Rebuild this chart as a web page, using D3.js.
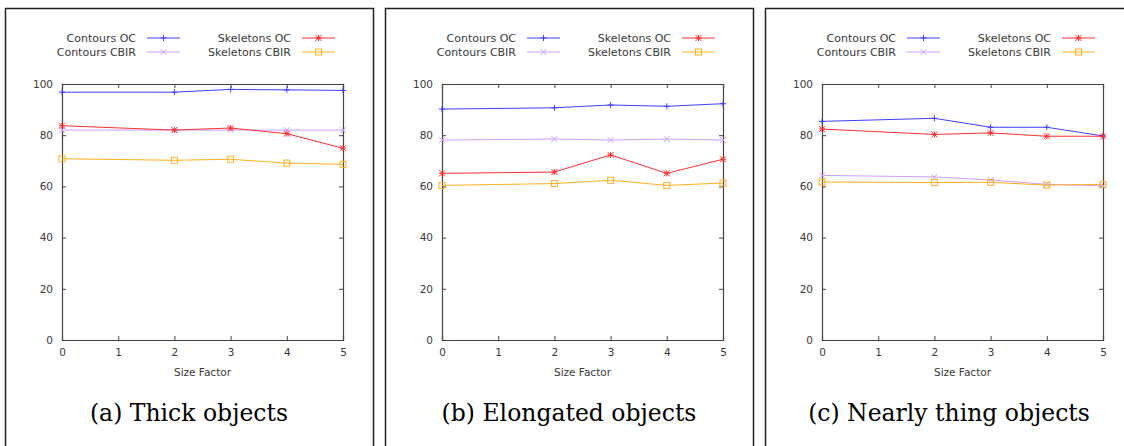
<!DOCTYPE html>
<html>
<head>
<meta charset="utf-8">
<script src="https://cdn.jsdelivr.net/npm/d3@7"></script>
<style>
  body { margin: 0; background: #fff; }
  svg { display: block; }
</style>
</head>
<body>
<div id="chart"></div>
<script>
// size factors that were measured (no point at 1)
var sizeFactors = [0, 2, 3, 4, 5];
var xTicks = [0, 1, 2, 3, 4, 5];
var yTicks = [0, 20, 40, 60, 80, 100];

var seriesNames = ["Contours OC", "Contours CBIR", "Skeletons OC", "Skeletons CBIR"];

var captions = ["(a) Thick objects", "(b) Elongated objects", "(c) Nearly thing objects"];

// panel (a)
var thickContoursOC    = [96.8, 96.8, 97.9, 97.7, 97.5];
var thickContoursCBIR  = [82.0, 82.0, 82.0, 82.0, 82.0];
var thickSkeletonsOC   = [83.7, 82.0, 82.8, 80.6, 74.9];
var thickSkeletonsCBIR = [70.8, 70.2, 70.6, 69.1, 68.6];

// panel (b)
var elongContoursOC    = [90.2, 90.7, 91.8, 91.3, 92.3];
var elongContoursCBIR  = [78.1, 78.5, 78.1, 78.5, 78.1];
var elongSkeletonsOC   = [65.1, 65.6, 72.3, 65.1, 70.6];
var elongSkeletonsCBIR = [60.4, 61.1, 62.4, 60.4, 61.3];

// panel (c)
var thinContoursOC    = [85.4, 86.6, 83.1, 83.1, 79.7];
var thinContoursCBIR  = [64.3, 63.7, 62.5, 60.8, 60.2];
var thinSkeletonsOC   = [82.4, 80.3, 80.9, 79.6, 79.6];
var thinSkeletonsCBIR = [61.7, 61.5, 61.6, 60.5, 60.8];

var panels = [
  [thickContoursOC, thickContoursCBIR, thickSkeletonsOC, thickSkeletonsCBIR],
  [elongContoursOC, elongContoursCBIR, elongSkeletonsOC, elongSkeletonsCBIR],
  [thinContoursOC, thinContoursCBIR, thinSkeletonsOC, thinSkeletonsCBIR]
];

var colors = ["#4040ff", "#c8a0ff", "#ff3030", "#ffb020"];
var markers = ["plus", "cross", "star", "square"];

var width = 1124, height = 446;
var panelStep = 380;

var svg = d3.select("#chart").append("svg")
    .attr("width", width)
    .attr("height", height);

var x = d3.scaleLinear().domain([0, 5]).range([62, 343]);
var y = d3.scaleLinear().domain([0, 100]).range([340, 84]);

function drawMarker(g, type, cx, cy, color) {
  var s = 3;
  if (type == "plus" || type == "star") {
    g.append("path").attr("d", "M" + (cx - s) + "," + cy + "H" + (cx + s) + "M" + cx + "," + (cy - s) + "V" + (cy + s))
      .attr("stroke", color).attr("stroke-width", 1);
  }
  if (type == "cross" || type == "star") {
    g.append("path").attr("d", "M" + (cx - s) + "," + (cy - s) + "L" + (cx + s) + "," + (cy + s) + "M" + (cx - s) + "," + (cy + s) + "L" + (cx + s) + "," + (cy - s))
      .attr("stroke", color).attr("stroke-width", 1);
  }
  if (type == "square") {
    g.append("rect").attr("x", cx - s).attr("y", cy - s).attr("width", 2 * s).attr("height", 2 * s)
      .attr("fill", "none").attr("stroke", color).attr("stroke-width", 1);
  }
}

panels.forEach(function(series, p) {
  var g = svg.append("g").attr("transform", "translate(" + (p * panelStep) + ",0)");

  // frame of the subfigure
  g.append("path")
    .attr("d", "M5.5,460V8.5H" + (p == 2 ? 400 : 373.5) + "V460")
    .attr("fill", "none")
    .attr("stroke", "#222")
    .attr("stroke-width", 1.5);

  // axes
  var xAxis = g.append("g").attr("transform", "translate(0,340)")
    .call(d3.axisBottom(x).tickValues(xTicks).tickSize(-4).tickPadding(9).tickFormat(d3.format("d")));
  var xTop = g.append("g").attr("transform", "translate(0,84)")
    .call(d3.axisTop(x).tickValues(xTicks).tickSize(-4).tickFormat(""));
  var yAxis = g.append("g").attr("transform", "translate(62,0)")
    .call(d3.axisLeft(y).tickValues(yTicks).tickSize(-4).tickPadding(9));
  var yRight = g.append("g").attr("transform", "translate(343,0)")
    .call(d3.axisRight(y).tickValues(yTicks).tickSize(-4).tickFormat(""));

  [xAxis, xTop, yAxis, yRight].forEach(function(a) {
    a.select(".domain").attr("stroke", "#444").attr("stroke-width", 1.2);
    a.selectAll(".tick line").attr("stroke", "#444");
    a.selectAll("text").attr("fill", "#3a3a3a")
      .style("font-family", "'DejaVu Sans', sans-serif").style("font-size", "10.5px");
  });

  g.append("text")
    .attr("x", x(2.5)).attr("y", 376)
    .attr("text-anchor", "middle")
    .attr("fill", "#3a3a3a")
    .style("font-family", "'DejaVu Sans', sans-serif").style("font-size", "10.5px")
    .text("Size Factor");

  // lines
  var line = d3.line().x(function(d, i) { return x(sizeFactors[i]); }).y(function(d) { return y(d); });
  series.forEach(function(vals, k) {
    g.append("path").datum(vals)
      .attr("d", line)
      .attr("fill", "none")
      .attr("stroke", colors[k])
      .attr("stroke-width", 1);
    vals.forEach(function(v, i) {
      drawMarker(g, markers[k], x(sizeFactors[i]), y(v), colors[k]);
    });
  });

  // legend
  var legendPos = [[136, 38], [136, 52], [291, 38], [291, 52]];
  seriesNames.forEach(function(name, k) {
    var lx = legendPos[k][0], ly = legendPos[k][1];
    g.append("text")
      .attr("x", lx).attr("y", ly).attr("dy", "0.35em")
      .attr("text-anchor", "end")
      .attr("fill", "#3a3a3a")
      .style("font-family", "'DejaVu Sans', sans-serif").style("font-size", "11px")
      .text(name);
    g.append("line")
      .attr("x1", lx + 11).attr("x2", lx + 44).attr("y1", ly).attr("y2", ly)
      .attr("stroke", colors[k]).attr("stroke-width", 1);
    drawMarker(g, markers[k], lx + 27.5, ly, colors[k]);
  });

  // caption
  g.append("text")
    .attr("x", 189).attr("y", 421)
    .attr("text-anchor", "middle")
    .attr("fill", "#000")
    .style("font-family", "'DejaVu Serif', serif").style("font-size", "23.5px")
    .text(captions[p]);
});
</script>
</body>
</html>
